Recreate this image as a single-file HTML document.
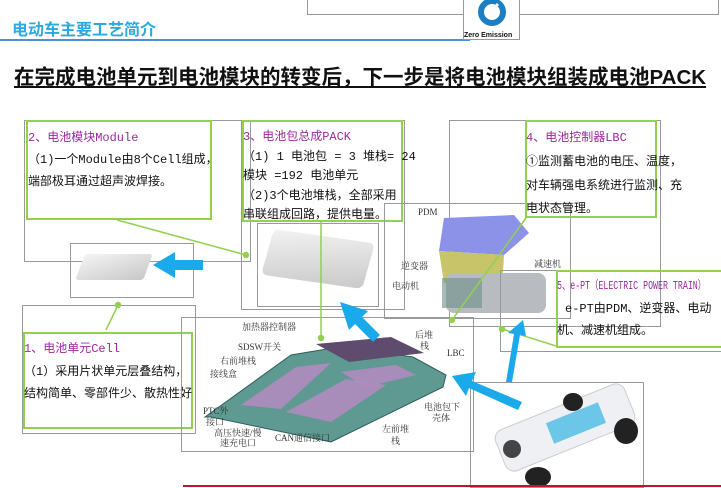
<!DOCTYPE html>
<html><head><meta charset="utf-8"><style>
*{margin:0;padding:0;box-sizing:border-box}
body{width:721px;height:487px;background:#fff;position:relative;overflow:hidden;font-family:"Liberation Sans","Noto Sans CJK SC",sans-serif}
.a{position:absolute}
.g{position:absolute;border:1px solid #999}
.gr{position:absolute;border:2px solid #92d050}
.t{position:absolute;font-family:"Liberation Mono","Noto Sans CJK SC",monospace;font-size:12px;color:#111;white-space:nowrap}
.p{color:#9b2a9b}
.s{position:absolute;font-family:"Liberation Serif","Noto Serif CJK SC",serif;font-size:9px;color:#333;white-space:nowrap;line-height:10px}
</style></head><body>
<div class="g" style="left:307px;top:-1px;width:412px;height:16px"></div>
<div class="a" style="left:12px;top:16px;font-size:16px;font-weight:bold;color:#29aae1">电动车主要工艺简介</div>
<div class="a" style="left:0;top:39px;width:470px;height:2px;background:#4a90d9"></div>
<div class="a" style="left:463px;top:0;width:57px;height:40px;background:#fff;border:1px solid #999;border-top:none"></div>
<svg class="a" style="left:462px;top:0" width="60" height="40"><circle cx="30" cy="12" r="11" fill="none" stroke="#1c7fc4" stroke-width="6"/><path d="M24 16 L36 4" stroke="#fff" stroke-width="3"/><text x="2" y="37" font-size="7" font-family="Liberation Sans" font-weight="bold" fill="#111">Zero Emission</text></svg>
<div class="a" style="left:14px;top:60px;font-size:20.5px;font-weight:bold;color:#111;text-decoration:underline;white-space:nowrap">在完成电池单元到电池模块的转变后，下一步是将电池模块组装成电池PACK</div>

<div class="g" style="left:24px;top:120px;width:227px;height:142px"></div>
<div class="gr" style="left:26px;top:120px;width:186px;height:100px"></div>
<div class="t p" style="left:28px;top:128px">2、电池模块Module</div>
<div class="t" style="left:28px;top:150px">（1)一个Module由8个Cell组成，</div>
<div class="t" style="left:28px;top:172px">端部极耳通过超声波焊接。</div>
<div class="g" style="left:70px;top:243px;width:124px;height:55px"></div>
<div class="a" style="left:80px;top:254px;width:68px;height:26px;background:linear-gradient(160deg,#f4f4f4,#c8c8c8);transform:skew(-20deg);border-radius:3px"></div>

<div class="g" style="left:241px;top:120px;width:164px;height:190px"></div>
<div class="gr" style="left:242px;top:120px;width:161px;height:102px"></div>
<div class="t p" style="left:243px;top:127px">3、电池包总成PACK</div>
<div class="t" style="left:243px;top:147px">（1) 1 电池包 = 3 堆栈= 24</div>
<div class="t" style="left:243px;top:166px">模块 =192 电池单元</div>
<div class="t" style="left:243px;top:186px">（2)3个电池堆栈，全部采用</div>
<div class="t" style="left:243px;top:205px">串联组成回路，提供电量。</div>
<div class="g" style="left:257px;top:223px;width:122px;height:84px"></div>
<div class="a" style="left:266px;top:236px;width:104px;height:46px;background:linear-gradient(170deg,#f2f2f2,#c9c9c9);border-radius:6px;transform:skew(-8deg) rotate(8deg)"></div>

<div class="g" style="left:22px;top:305px;width:174px;height:129px"></div>
<div class="gr" style="left:23px;top:332px;width:170px;height:97px"></div>
<div class="t p" style="left:24px;top:339px">1、电池单元Cell</div>
<div class="t" style="left:24px;top:362px">（1）采用片状单元层叠结构，</div>
<div class="t" style="left:24px;top:384px">结构简单、零部件少、散热性好</div>

<div class="g" style="left:181px;top:317px;width:293px;height:135px"></div>
<svg class="a" style="left:181px;top:317px" width="293" height="135">
<polygon points="24,100 110,38 158,30 232,40 265,58 262,70 150,125 30,100" fill="#5f9a92" stroke="#2f5f5a"/>
<polygon points="60,88 115,50 150,46 100,92" fill="#b58ac0" opacity=".85"/>
<polygon points="105,95 165,62 205,68 150,105" fill="#b58ac0" opacity=".85"/>
<polygon points="160,55 215,48 235,58 185,70" fill="#b58ac0" opacity=".85"/>
<polygon points="135,27 210,20 243,36 168,45" fill="#5e4b6e"/>
</svg>
<div class="s" style="left:242px;top:322px">加热器控制器</div>
<div class="s" style="left:238px;top:342px">SDSW开关</div>
<div class="s" style="left:220px;top:356px">右前堆栈</div>
<div class="s" style="left:210px;top:369px">接线盒</div>
<div class="s" style="left:415px;top:330px">后堆</div>
<div class="s" style="left:420px;top:341px">栈</div>
<div class="s" style="left:447px;top:348px">LBC</div>
<div class="s" style="left:203px;top:406px">PTC外</div>
<div class="s" style="left:206px;top:417px">接口</div>
<div class="s" style="left:214px;top:428px">高压快速/慢</div>
<div class="s" style="left:220px;top:438px">速充电口</div>
<div class="s" style="left:275px;top:433px">CAN通信接口</div>
<div class="s" style="left:382px;top:424px">左前堆</div>
<div class="s" style="left:391px;top:436px">栈</div>
<div class="s" style="left:424px;top:402px">电池包下</div>
<div class="s" style="left:432px;top:413px">壳体</div>

<div class="g" style="left:449px;top:120px;width:212px;height:207px"></div>
<div class="g" style="left:384px;top:203px;width:187px;height:116px"></div>
<svg class="a" style="left:384px;top:203px" width="187" height="116">
<polygon points="60,15 130,12 145,30 120,52 55,48" fill="#8c92e8"/>
<polygon points="55,48 120,52 118,85 60,80" fill="#c7c46a"/>
<rect x="62" y="70" width="100" height="40" rx="8" fill="#b8bcc0"/>
<rect x="58" y="75" width="40" height="30" fill="#6a8f8a" opacity=".6"/>
</svg>
<div class="gr" style="left:525px;top:120px;width:132px;height:98px"></div>
<div class="t p" style="left:526px;top:128px">4、电池控制器LBC</div>
<div class="t" style="left:526px;top:152px">①监测蓄电池的电压、温度，</div>
<div class="t" style="left:526px;top:176px">对车辆强电系统进行监测、充</div>
<div class="t" style="left:526px;top:199px">电状态管理。</div>
<div class="s" style="left:418px;top:207px">PDM</div>
<div class="s" style="left:401px;top:261px">逆变器</div>
<div class="s" style="left:392px;top:281px">电动机</div>
<div class="s" style="left:534px;top:259px">减速机</div>

<div class="g" style="left:500px;top:270px;width:224px;height:82px"></div>
<div class="gr" style="left:556px;top:270px;width:168px;height:78px"></div>
<div class="t p" style="left:557px;top:277px;font-size:11.5px;transform:scaleX(0.72);transform-origin:left top">5、e-PT（ELECTRIC POWER TRAIN）</div>
<div class="t" style="left:565px;top:299px">e-PT由PDM、逆变器、电动</div>
<div class="t" style="left:557px;top:321px">机、减速机组成。</div>

<div class="g" style="left:470px;top:382px;width:174px;height:106px"></div>
<div class="a" style="left:495px;top:405px;width:140px;height:45px;background:#eef0f3;border:1px solid #ccc;transform:rotate(-22deg);border-radius:10px"></div>
<div class="a" style="left:548px;top:412px;width:56px;height:22px;background:#6bc6e8;transform:rotate(-22deg)"></div>
<div class="a" style="left:614px;top:418px;width:24px;height:26px;background:#222;border-radius:50%"></div>
<div class="a" style="left:563px;top:393px;width:20px;height:18px;background:#222;border-radius:50%"></div>
<div class="a" style="left:525px;top:467px;width:26px;height:20px;background:#222;border-radius:50%"></div>
<div class="a" style="left:503px;top:440px;width:18px;height:18px;background:#444;border-radius:50%"></div>
<div class="a" style="left:183px;top:485px;width:538px;height:2px;background:#c8102e"></div>

<svg class="a" style="left:0;top:0" width="721" height="487">
<g stroke="#92d050" stroke-width="1.5" fill="#92d050">
<line x1="117" y1="220" x2="246" y2="255"/><circle cx="246" cy="255" r="2.5"/>
<line x1="106" y1="330" x2="118" y2="305"/><circle cx="118" cy="305" r="2.5"/>
<line x1="321" y1="222" x2="321" y2="338"/><circle cx="321" cy="338" r="2.5"/>
<line x1="526" y1="218" x2="452" y2="320"/><circle cx="452" cy="320" r="2.5"/>
<line x1="556" y1="346" x2="502" y2="329"/><circle cx="502" cy="329" r="2.5"/>
</g>
<g fill="#1aa9ea">
<polygon points="203,260 175,260 175,252 153,265 175,278 175,270 203,270"/>
<polygon points="380,335 362,317 368,311 340,302 349,330 355,324 373,342"/>
<polygon points="512,382 520,335 526,336 523,320 508,333 514,334 506,382"/>
<polygon points="522,402 472,381 476,372 452,376 466,396 469,388 518,410"/>
</g>
</svg>
</body></html>
